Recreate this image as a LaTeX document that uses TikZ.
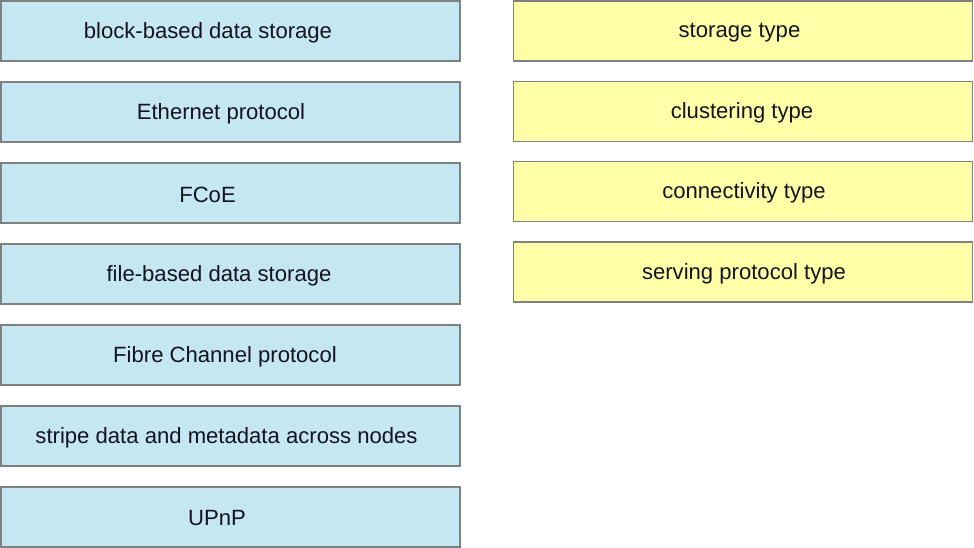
\documentclass[tikz,border=0pt]{standalone}
\usepackage{fontspec}
\setmainfont{Liberation Sans}
\usetikzlibrary{calc}

\definecolor{boxblue}{HTML}{C4E7F1}
\definecolor{boxyellow}{HTML}{FFFFA8}
\definecolor{boxline}{HTML}{808080}
\definecolor{boxtext}{HTML}{141420}

\tikzset{
  card/.style={draw=boxline,line width=1.2pt,minimum width=459pt,minimum height=60pt,
    inner sep=0pt},
  termcard/.style={card,fill=boxblue},
  groupcard/.style={card,fill=boxyellow},
  cardtext/.style={inner sep=0pt,text=boxtext,font=\fontsize{22.1}{26}\selectfont}
}

\begin{document}
\begin{tikzpicture}[x=1pt,y=1pt]
  \useasboundingbox (0,0) rectangle (974,-548);

  % left column
  \foreach \txt/\dx [count=\i] in {block-based data storage/-22.5,Ethernet protocol/-9.5,
      FCoE/-23,file-based data storage/-11.5,Fibre Channel protocol/-5.5,
      stripe data and metadata across nodes/-4,UPnP/-13.5}
  {
    \node[termcard] (term\i) at (230.5,{-31-81*(\i-1)}) {};
    \node[cardtext] (termtext\i) at ($ (term\i.center) + (\dx,-1.5) $) {\txt};
  }

  % right column
  \foreach \txt/\dx [count=\i] in {storage type/-3.5,clustering type/-1,
      connectivity type/1,serving protocol type/1}
  {
    \node[groupcard] (group\i) at (743,{-31-80.3*(\i-1)}) {};
    \node[cardtext] (grouptext\i) at ($ (group\i.center) + (\dx,-1.5) $) {\txt};
  }
\end{tikzpicture}
\end{document}
